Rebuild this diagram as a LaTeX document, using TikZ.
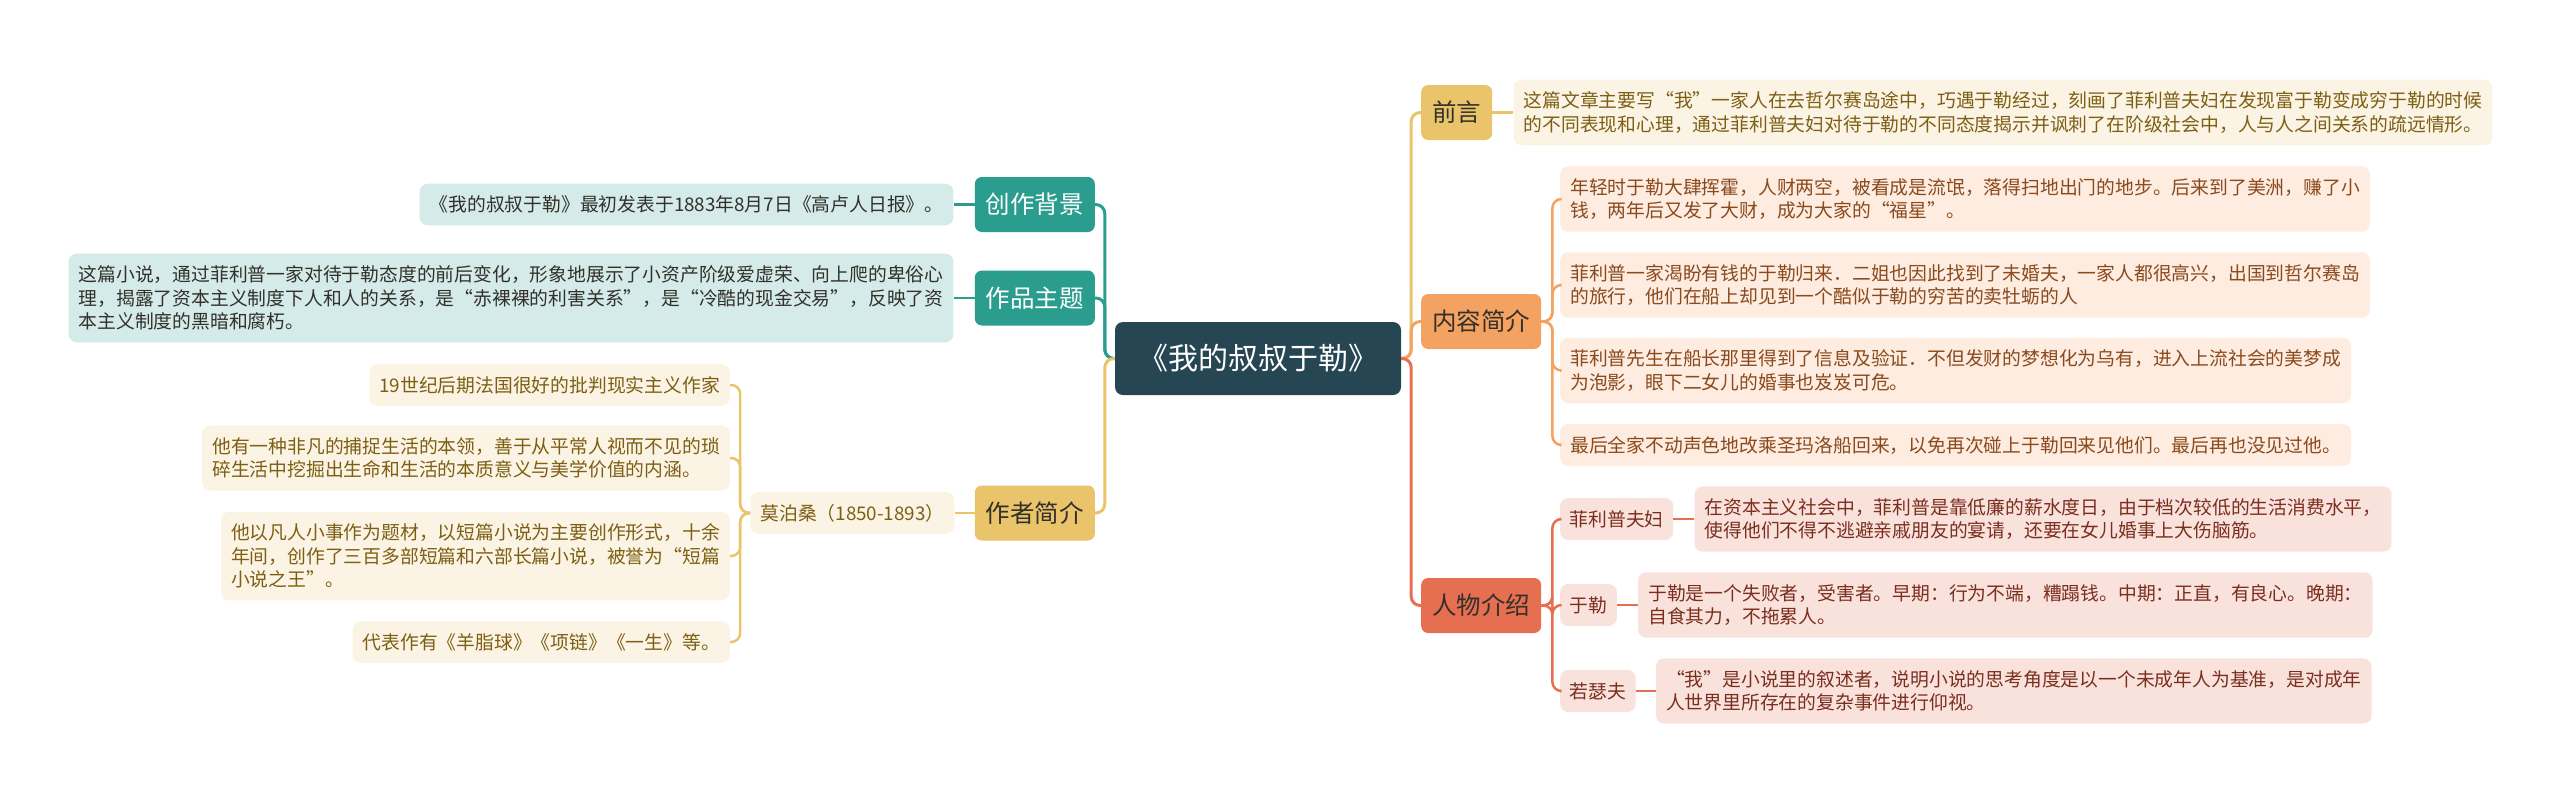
\documentclass[tikz,border=0pt]{standalone}
\usepackage{fontspec}
\setmainfont{Noto Sans CJK SC}
\usepackage{xcolor}
\definecolor{rootC}{HTML}{264653}
\definecolor{tealC}{HTML}{2A9D8F}
\definecolor{goldC}{HTML}{E9C46A}
\definecolor{orangeC}{HTML}{F4A261}
\definecolor{redC}{HTML}{E76F51}
\definecolor{goldTxt}{HTML}{7D5F14}
\definecolor{orangeTxt}{HTML}{8A4A1E}
\definecolor{redTxt}{HTML}{7A2E1E}
\definecolor{darkTxt}{HTML}{33302A}
\usetikzlibrary{positioning}

\begin{document}
\begin{tikzpicture}[x=1pt,y=-1pt,
 root/.style={fill=rootC,rounded corners=8pt,text=white,
 font=\fontsize{30}{36}\selectfont,minimum width=286pt,minimum height=73pt},
 topic/.style={rounded corners=7pt,font=\fontsize{24.5}{30}\selectfont,
 inner xsep=11pt,minimum height=55pt,text=darkTxt},
 leaf/.style={rounded corners=8pt,font=\fontsize{18.8}{23.5}\selectfont,
 align=left,inner xsep=10pt,inner ysep=12pt},
 tealleaf/.style={leaf,fill=tealC!20,text=darkTxt},
 goldleaf/.style={leaf,fill=goldC!18,text=goldTxt},
 orangeleaf/.style={leaf,fill=orangeC!20,text=orangeTxt},
 redleaf/.style={leaf,fill=redC!20,text=redTxt},
 tag/.style={redleaf,inner xsep=9.5pt,inner ysep=0pt,minimum height=42pt},
 link/.style={line width=3pt,rounded corners=9pt},
 sublink/.style={line width=2.5pt,rounded corners=9pt}]
 \useasboundingbox (0,0) rectangle (2560,804);

 \node[root] (root) at (1258,358.5) {《我的叔叔于勒》};

 % left side
 \node[topic,fill=tealC,text=white,anchor=east] (bg) at (1095,204.5) {创作背景};
 \node[tealleaf,left=21pt of bg] (bgleaf) {《我的叔叔于勒》最初发表于1883年8月7日《高卢人日报》。};
 \node[topic,fill=tealC,text=white,anchor=east] (theme) at (1095,298) {作品主题};
 \node[tealleaf,left=21pt of theme] (themeleaf) {这篇小说，通过菲利普一家对待于勒态度的前后变化，形象地展示了小资产阶级爱虚荣、向上爬的卑俗心\\
 理，揭露了资本主义制度下人和人的关系，是“赤裸裸的利害关系”，是“冷酷的现金交易”，反映了资\\
 本主义制度的黑暗和腐朽。};
 \node[topic,fill=goldC,anchor=east] (author) at (1095,513) {作者简介};
 \node[goldleaf,left=20pt of author] (mps) {莫泊桑（1850-1893）};
 \node[goldleaf,anchor=east] (a1) at (730,385) {19世纪后期法国很好的批判现实主义作家};
 \node[goldleaf,anchor=east] (a2) at (730,458) {他有一种非凡的捕捉生活的本领，善于从平常人视而不见的琐\\
 碎生活中挖掘出生命和生活的本质意义与美学价值的内涵。};
 \node[goldleaf,anchor=east] (a3) at (730,556) {他以凡人小事作为题材，以短篇小说为主要创作形式，十余\\
 年间，创作了三百多部短篇和六部长篇小说，被誉为“短篇\\
 小说之王”。};
 \node[goldleaf,anchor=east] (a4) at (730,642) {代表作有《羊脂球》《项链》《一生》等。};

 % right side
 \node[topic,fill=goldC,anchor=west] (pre) at (1421,112.5) {前言};
 \node[goldleaf,right=21pt of pre] (preleaf) {这篇文章主要写“我”一家人在去哲尔赛岛途中，巧遇于勒经过，刻画了菲利普夫妇在发现富于勒变成穷于勒的时候\\
 的不同表现和心理，通过菲利普夫妇对待于勒的不同态度揭示并讽刺了在阶级社会中，人与人之间关系的疏远情形。};
 \node[topic,fill=orangeC,anchor=west] (summary) at (1421,321.5) {内容简介};
 \node[orangeleaf,anchor=west] (s1) at (1560,199) {年轻时于勒大肆挥霍，人财两空，被看成是流氓，落得扫地出门的地步。后来到了美洲，赚了小\\
 钱，两年后又发了大财，成为大家的“福星”。};
 \node[orangeleaf,anchor=west] (s2) at (1560,285) {菲利普一家渴盼有钱的于勒归来．二姐也因此找到了未婚夫，一家人都很高兴，出国到哲尔赛岛\\
 的旅行，他们在船上却见到一个酷似于勒的穷苦的卖牡蛎的人};
 \node[orangeleaf,anchor=west] (s3) at (1560,370.5) {菲利普先生在船长那里得到了信息及验证．不但发财的梦想化为乌有，进入上流社会的美梦成\\
 为泡影，眼下二女儿的婚事也岌岌可危。};
 \node[orangeleaf,anchor=west] (s4) at (1560,445) {最后全家不动声色地改乘圣玛洛船回来，以免再次碰上于勒回来见他们。最后再也没见过他。};
 \node[topic,fill=redC,anchor=west] (chars) at (1421,605.5) {人物介绍};
 \node[tag,anchor=west] (c1) at (1560,519) {菲利普夫妇};
 \node[redleaf,right=21pt of c1] (c1leaf) {在资本主义社会中，菲利普是靠低廉的薪水度日，由于档次较低的生活消费水平，\\
 使得他们不得不逃避亲戚朋友的宴请，还要在女儿婚事上大伤脑筋。};
 \node[tag,anchor=west] (c2) at (1560,605) {于勒};
 \node[redleaf,right=21pt of c2] (c2leaf) {于勒是一个失败者，受害者。早期：行为不端，糟蹋钱。中期：正直，有良心。晚期：\\
 自食其力，不拖累人。};
 \node[tag,anchor=west] (c3) at (1560,691) {若瑟夫};
 \node[redleaf,right=20pt of c3] (c3leaf) {“我”是小说里的叙述者，说明小说的思考角度是以一个未成年人为基准，是对成年\\
 人世界里所存在的复杂事件进行仰视。};

 % connectors
 \draw[link,tealC] (root.west) -- ++(-10,0) |- (bg.east);
 \draw[link,tealC] (root.west) -- ++(-10,0) |- (theme.east);
 \draw[link,goldC] (root.west) -- ++(-10,0) |- (author.east);
 \draw[link,goldC] (root.east) -- ++(10,0) |- (pre.west);
 \draw[link,orangeC] (root.east) -- ++(10,0) |- (summary.west);
 \draw[link,redC] (root.east) -- ++(10,0) |- (chars.west);
 \draw[sublink,tealC] (bg.west) -- (bgleaf.east);
 \draw[sublink,tealC] (theme.west) -- (themeleaf.east);
 \draw[sublink,goldC] (author.west) -- (mps.east);
 \foreach \n in {a1,a2,a3,a4}
 \draw[sublink,goldC] (mps.west) -- ++(-10,0) |- (\n.east);
 \draw[sublink,goldC] (pre.east) -- (preleaf.west);
 \foreach \n in {s1,s2,s3,s4}
 \draw[sublink,orangeC] (summary.east) -- ++(11,0) |- (\n.west);
 \foreach \n in {c1,c2,c3}
 \draw[sublink,redC] (chars.east) -- ++(11,0) |- (\n.west);
 \draw[sublink,redC] (c1.east) -- (c1leaf.west);
 \draw[sublink,redC] (c2.east) -- (c2leaf.west);
 \draw[sublink,redC] (c3.east) -- (c3leaf.west);
\end{tikzpicture}
\end{document}
